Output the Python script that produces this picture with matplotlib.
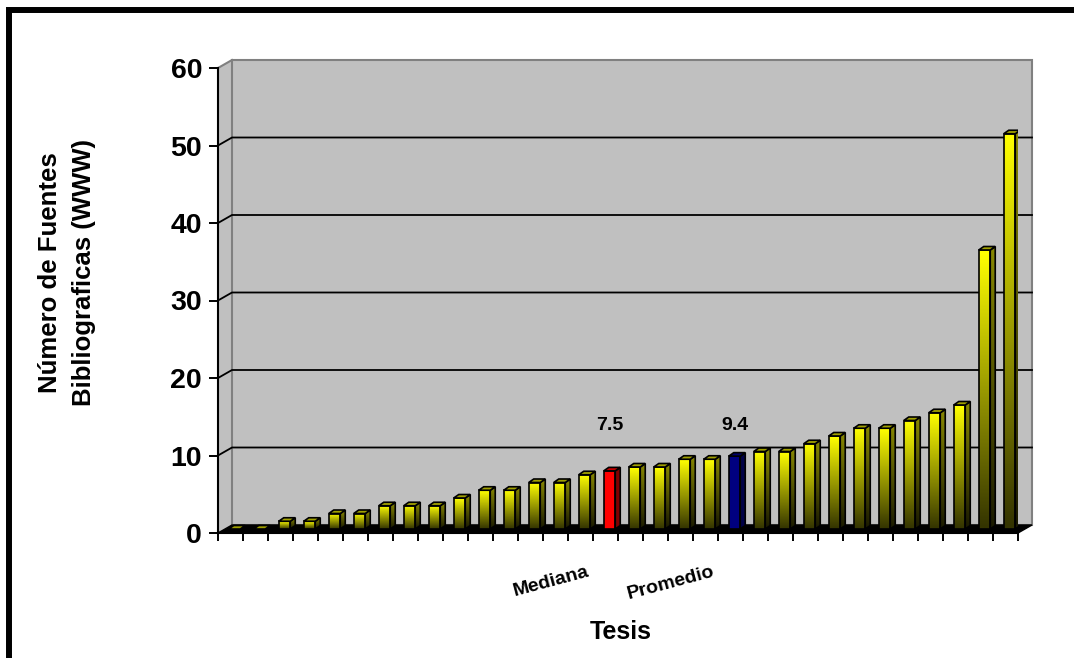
import matplotlib.pyplot as plt
import numpy as np
from matplotlib.patches import Rectangle, Polygon
from matplotlib.colors import to_rgb

# 데이터 (tesis별 WWW 참고문헌 수, 정렬됨)
valores = [0, 0, 1, 1, 2, 2, 3, 3, 3, 4, 5, 5, 6, 6, 7, 7.5,
           8, 8, 9, 9, 9.4, 10, 10, 11, 12, 13, 13, 14, 15, 16, 36, 51]
mediana = 7.5
promedio = 9.4
etiquetas = ['Mediana', 'Promedio']
yticks = [0, 10, 20, 30, 40, 50, 60]

i_med = valores.index(mediana)
i_prom = valores.index(promedio)

plt.rcParams['font.family'] = ['Liberation Sans', 'DejaVu Sans']
plt.rcParams['font.weight'] = 'bold'

W, H = 1074, 658
fig = plt.figure(figsize=(W / 100, H / 100), dpi=100)
ax = fig.add_axes([218 / W, (H - 533) / H, 800 / W, 465 / H])

n = len(valores)
ymax = yticks[-1]
px = n / 800        # 가로 1픽셀
py = ymax / 465     # 세로 1픽셀
bx, by = 14 * px, 8 * py    # 뒷벽 깊이
fx, fy = 4 * px, 4 * py     # 막대 위치
dx, dy = 5 * px, 3.5 * py   # 막대 두께
ancho = 11.5 * px

# 벽, 바닥
ax.add_patch(Polygon([(0, 0), (bx, by), (bx, ymax + by), (0, ymax)],
                     fc='#c0c0c0', ec='none', clip_on=False, zorder=0.5))
ax.add_patch(Rectangle((bx, by), n, ymax, fc='#c0c0c0', ec='#808080',
                       lw=1.5, clip_on=False, zorder=0.5))
ax.plot([0, bx], [ymax, ymax + by], color='#808080', lw=1.5,
        clip_on=False, zorder=0.6)
for v in yticks[1:-1]:
    ax.plot([0, bx, n + bx], [v, v + by, v + by], color='black', lw=1.3,
            clip_on=False, zorder=0.8)
ax.add_patch(Polygon([(0, 0), (n, 0), (n + bx, by), (bx, by)],
                     fc='black', ec='black', lw=1, clip_on=False, zorder=0.9))


def grad(c_top, c_bot, k=64):
    t = np.linspace(0, 1, k)[:, None, None]
    return np.array(to_rgb(c_top)) * (1 - t) + np.array(to_rgb(c_bot)) * t


# 막대 그리기
for i, v in enumerate(valores):
    if v == mediana:
        cf, cb, cs, cs2, ct = '#ff0000', '#ff0000', '#800000', '#800000', '#c00000'
    elif v == promedio:
        cf, cb, cs, cs2, ct = '#000080', '#000080', '#000048', '#000048', '#00006a'
    else:
        cf, cb, cs, cs2, ct = '#ffff00', '#343400', '#888800', '#1a1a00', '#a0a000'
    x0 = i + 0.5 - ancho / 2 + fx
    x1 = x0 + ancho
    y0 = fy
    y1 = fy + v
    if v > 0:
        ax.imshow(grad(cf, cb), extent=[x0, x1, y0, y1], aspect='auto',
                  interpolation='bilinear', origin='upper', zorder=2)
        lado = Polygon([(x1, y0), (x1 + dx, y0 + dy), (x1 + dx, y1 + dy), (x1, y1)],
                       fc='none', ec='black', lw=1.2, zorder=2.2)
        ax.add_patch(lado)
        im = ax.imshow(grad(cs, cs2), extent=[x1, x1 + dx, y0, y1 + dy],
                       aspect='auto', interpolation='bilinear', origin='upper',
                       zorder=2.1)
        im.set_clip_path(lado)
        ax.add_patch(Rectangle((x0, y0), ancho, v, fc='none', ec='black',
                               lw=1.2, zorder=2.2))
    ax.add_patch(Polygon([(x0, y1), (x1, y1), (x1 + dx, y1 + dy), (x0 + dx, y1 + dy)],
                         fc=ct, ec='black', lw=1.2, zorder=2.2))

# 값 라벨
ax.text(i_med + 0.5 + fx, 13.9, f'{mediana}', ha='center', va='center', fontsize=14)
ax.text(i_prom + 0.5 + fx, 13.9, f'{promedio}', ha='center', va='center', fontsize=14)
for idx, txt in zip([i_med, i_prom], etiquetas):
    ax.text(idx + 0.5 - 0.65, -5.0, txt, rotation=15, rotation_mode='anchor',
            ha='right', va='center', fontsize=14)

# 축 설정
ax.set_xlim(0, n)
ax.set_ylim(0, ymax)
ax.patch.set_visible(False)
ax.spines['top'].set_visible(False)
ax.spines['right'].set_visible(False)
ax.spines['left'].set_linewidth(1.5)
ax.spines['bottom'].set_linewidth(1.5)
ax.set_yticks(yticks)
ax.set_xticks(range(n + 1))
ax.set_xticklabels([])
ax.tick_params(axis='y', direction='out', length=6.5, width=1.4, labelsize=20.5, pad=5)
ax.tick_params(axis='x', direction='out', length=6, width=1.4)

fig.text(621 / W, 1 - 632 / H, 'Tesis', fontsize=18, ha='center', va='center')
fig.text(67 / W, 1 - 273 / H, 'Número de Fuentes\nBibliograficas (WWW)', rotation=90,
         fontsize=18.5, ha='center', va='center', linespacing=1.5,
         multialignment='center')

# 테두리
fig.add_artist(Rectangle((9 / W, -0.1), 1.1, 1 - 10 / H + 0.1, transform=fig.transFigure,
                         fill=False, ec='black', lw=4.3))

fig.savefig('out.png', dpi=100)
